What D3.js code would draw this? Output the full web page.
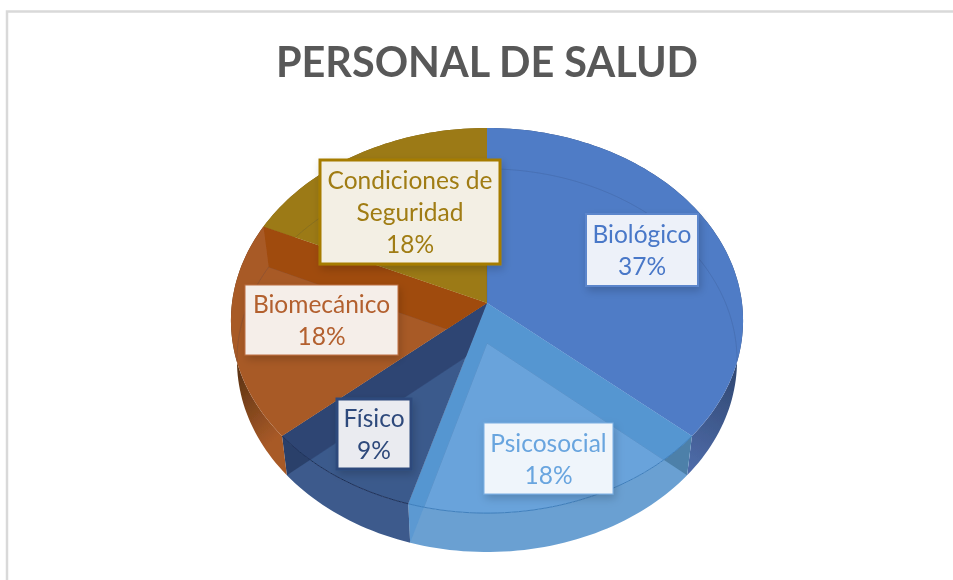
<!DOCTYPE html>
<html>
<head>
<meta charset="utf-8">
<script src="https://cdn.jsdelivr.net/npm/d3@7"></script>
<style>
  html, body { margin: 0; padding: 0; background: #fff; }
  svg { display: block; }
  text { font-family: Lato, "Open Sans", sans-serif; }
</style>
</head>
<body>
<svg id="chart" width="953" height="580"></svg>
<script>
// data
const title = 'PERSONAL DE SALUD';
const categories = ['Biológico', 'Psicosocial', 'Físico', 'Biomecánico', 'Condiciones de Seguridad'];
const values = [4, 2, 1, 2, 2];
const percentLabels = ['37%', '18%', '9%', '18%', '18%'];

// per slice styles: top face, end wall band, outer wall ends, text
const faceColors = ['#507CC6', '#69A3DB', '#3B5A8C', '#A85A28', '#9C7A17'];
const bandColors = ['#507CC6', '#5596D1', '#2F4573', '#A04B0D', '#9C7A17'];
const wallFrom = ['#304872', '#6AA0D2', '#3C5A8C', '#5E3413', '#7A6012'];
const wallTo = ['#4F6CAA', '#6AA0D2', '#3C5A8C', '#A85A28', '#7A6012'];
const textColors = ['#4A78C8', '#69A5DF', '#2F4A7C', '#B3602F', '#A07C12'];
const borderColors = ['#5B86CC', '#7BAEE2', '#2F4A7C', '#BC6F42', '#A67C00'];
const boxFills = ['#EDF1F9', '#EFF5FB', '#EAEBF0', '#F5EEE9', '#F3EFE4'];
const boxes = [
  { x: 586, y: 214, w: 112, h: 72, bw: 2 },
  { x: 484, y: 423, w: 129, h: 71, bw: 1 },
  { x: 337, y: 399, w: 74, h: 70, bw: 3 },
  { x: 245, y: 285, w: 153, h: 70, bw: 1 },
  { x: 320, y: 160, w: 180, h: 104, bw: 3 }
];

const svg = d3.select('#chart');
const defs = svg.append('defs');

const shadow = defs.append('filter').attr('id', 'box-shadow')
  .attr('x', '-20%').attr('y', '-20%').attr('width', '140%').attr('height', '150%');
shadow.append('feDropShadow')
  .attr('dx', 2).attr('dy', 4).attr('stdDeviation', 4)
  .attr('flood-color', '#000').attr('flood-opacity', 0.18);

const soft = defs.append('filter').attr('id', 'soft');
soft.append('feGaussianBlur').attr('stdDeviation', 0.5);

const softText = defs.append('filter').attr('id', 'soft-text');
softText.append('feGaussianBlur').attr('stdDeviation', 0.4);

// chart frame, open at the right and bottom
svg.append('path')
  .attr('d', 'M7,580V11.5H953')
  .attr('fill', 'none')
  .attr('stroke', '#D9D9D9')
  .attr('stroke-width', 2.5);

svg.append('text')
  .attr('x', 487)
  .attr('y', 77)
  .attr('text-anchor', 'middle')
  .attr('font-size', 41.4)
  .attr('font-weight', 700)
  .attr('fill', '#595959')
  .attr('filter', 'url(#soft-text)')
  .text(title);

const tilt = 0.091;
const topDisc = { cx: 487, cy: 303, rx: 255, ry: 191 };
const floorDisc = { cx: 487, cy: 343, rx: 249, ry: 190 };

// slice angle to screen point, far side of the disc shrinks a little
function project(disc, a) {
  const w = 1 + tilt * Math.cos(a);
  return [disc.cx + disc.rx * Math.sin(a) / w, disc.cy - disc.ry * Math.cos(a) / w];
}

function rimPoints(disc, a0, a1) {
  const n = Math.max(2, Math.ceil((a1 - a0) * 40));
  return d3.range(n + 1).map(i => project(disc, a0 + (a1 - a0) * i / n));
}

const line = d3.line();
const slices = d3.pie().sort(null)(values);

function sector(disc, d) {
  return line([[disc.cx, disc.cy], ...rimPoints(disc, d.startAngle, d.endAngle)]) + 'Z';
}

function wall(d) {
  const upper = rimPoints(topDisc, d.startAngle, d.endAngle);
  const lower = rimPoints(floorDisc, d.startAngle, d.endAngle).reverse();
  return line([...upper, ...lower]) + 'Z';
}

function radialWall(a) {
  return line([
    [topDisc.cx, topDisc.cy],
    project(topDisc, a),
    project(floorDisc, a),
    [floorDisc.cx, floorDisc.cy]
  ]) + 'Z';
}

slices.forEach((d, i) => {
  const [x0, y0] = project(topDisc, d.startAngle);
  const [x1, y1] = project(floorDisc, d.endAngle);
  const grad = defs.append('linearGradient').attr('id', `wall-${i}`)
    .attr('gradientUnits', 'userSpaceOnUse');
  // wall gradient runs from the silhouette edge toward the front
  if (i === 0) {
    grad.attr('x1', 740).attr('y1', 370).attr('x2', 685).attr('y2', 470);
  } else if (i === 3) {
    grad.attr('x1', 236).attr('y1', 375).attr('x2', 285).attr('y2', 430);
  } else {
    grad.attr('x1', x0).attr('y1', y0).attr('x2', x1).attr('y2', y1);
  }
  grad.append('stop').attr('offset', 0).attr('stop-color', wallFrom[i]);
  grad.append('stop').attr('offset', 1).attr('stop-color', wallTo[i]);

  defs.append('clipPath').attr('id', `clip-top-${i}`)
    .append('path').attr('d', sector(topDisc, d));
  defs.append('clipPath').attr('id', `clip-wall-${i}`)
    .append('path').attr('d', wall(d));
});

const pie = svg.append('g').attr('filter', 'url(#soft)');

// outer walls first, the top face hides the back part of them
pie.selectAll('.wall')
  .data(slices)
  .join('path')
    .attr('class', 'wall')
    .attr('d', wall)
    .attr('fill', (d, i) => `url(#wall-${i})`);

// end walls of the slices seen through the front glass
const endWalls = pie.append('g');
endWalls.append('path')
  .attr('clip-path', 'url(#clip-wall-2)')
  .attr('d', radialWall(slices[2].endAngle))
  .attr('fill', '#1E2E50').attr('fill-opacity', 0.55);
endWalls.append('path')
  .attr('clip-path', 'url(#clip-wall-1)')
  .attr('d', radialWall(slices[1].startAngle))
  .attr('fill', '#2F5F80').attr('fill-opacity', 0.5);
endWalls.append('path')
  .attr('clip-path', 'url(#clip-wall-1)')
  .attr('d', radialWall(slices[1].endAngle))
  .attr('fill', '#5596D1').attr('fill-opacity', 0.7);

pie.selectAll('.slice-top')
  .data(slices)
  .join('path')
    .attr('class', 'slice-top')
    .attr('d', d => sector(topDisc, d))
    .attr('fill', (d, i) => faceColors[i]);

// floor outline showing through the top face
pie.selectAll('.slice-floor')
  .data(slices)
  .join('path')
    .attr('class', 'slice-floor')
    .attr('d', d => sector(floorDisc, d))
    .attr('clip-path', (d, i) => `url(#clip-top-${i})`)
    .attr('fill', 'none')
    .attr('stroke', '#1E3058')
    .attr('stroke-opacity', 0.14)
    .attr('stroke-width', 1);

// end wall bands seen through the top face of each slice
const bands = pie.selectAll('.slice-band')
  .data(slices)
  .join('g')
    .attr('class', 'slice-band')
    .attr('clip-path', (d, i) => `url(#clip-top-${i})`);

bands.append('path')
  .attr('d', d => radialWall(d.startAngle))
  .attr('fill', (d, i) => bandColors[i]);

bands.append('path')
  .attr('d', d => radialWall(d.endAngle))
  .attr('fill', (d, i) => bandColors[i]);

// darker front edge of the top rim
pie.selectAll('.rim')
  .data(slices.slice(1, 3))
  .join('path')
    .attr('class', 'rim')
    .attr('d', d => line(rimPoints(topDisc, d.startAngle, d.endAngle)))
    .attr('fill', 'none')
    .attr('stroke', (d, i) => i === 0 ? '#3F7FBC' : '#1E3058')
    .attr('stroke-width', 1);

const labels = svg.selectAll('.data-label')
  .data(slices)
  .join('g')
    .attr('class', 'data-label');

labels.append('rect')
  .attr('x', (d, i) => boxes[i].x)
  .attr('y', (d, i) => boxes[i].y)
  .attr('width', (d, i) => boxes[i].w)
  .attr('height', (d, i) => boxes[i].h)
  .attr('fill', (d, i) => boxFills[i])
  .attr('stroke', (d, i) => borderColors[i])
  .attr('stroke-width', (d, i) => boxes[i].bw)
  .attr('filter', 'url(#box-shadow)');

labels.each(function(d, i) {
  const b = boxes[i];
  const rows = i === 4 ? ['Condiciones de', 'Seguridad', percentLabels[i]] : [categories[i], percentLabels[i]];
  d3.select(this).selectAll('text')
    .data(rows)
    .join('text')
      .attr('x', b.x + b.w / 2)
      .attr('y', (r, j) => b.y + b.h / 2 + (j - (rows.length - 1) / 2) * 32 + 9)
      .attr('text-anchor', 'middle')
      .attr('font-size', 24.5)
      .attr('fill', textColors[i])
      .attr('filter', 'url(#soft-text)')
      .text(r => r);
});
</script>
</body>
</html>
